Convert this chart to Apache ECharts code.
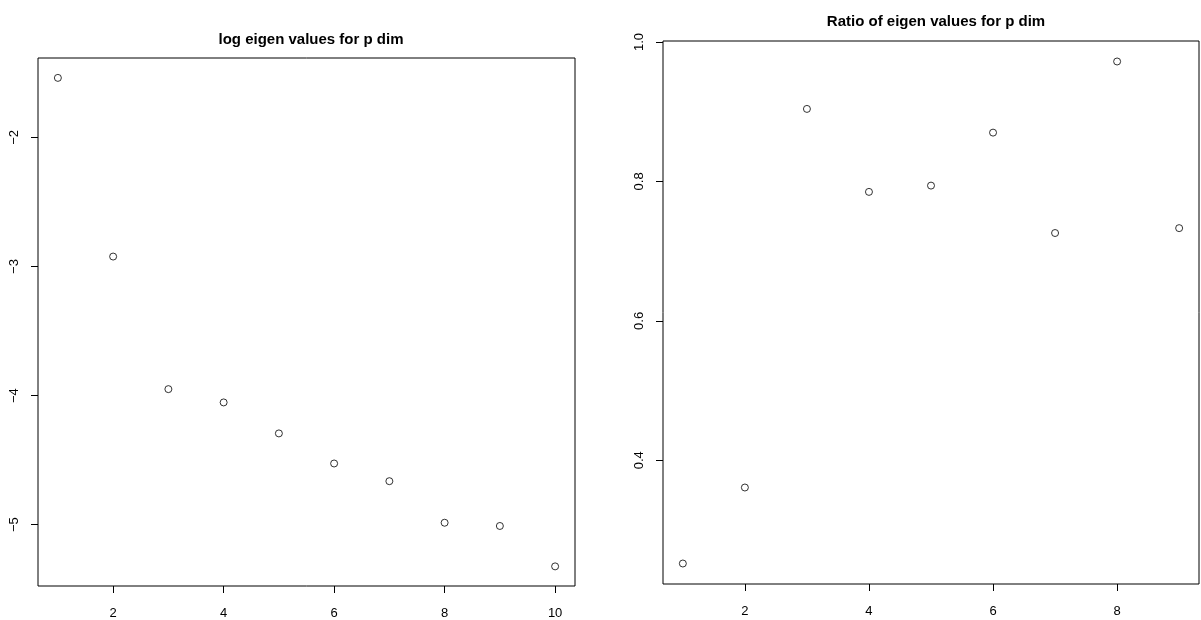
<!DOCTYPE html>
<html>
<head>
<meta charset="utf-8">
<script src="https://cdn.jsdelivr.net/npm/echarts@6/dist/echarts.min.js"></script>
<style>
  html, body { margin: 0; padding: 0; background: #fff; }
  #chart { width: 1201px; height: 620px; }
</style>
</head>
<body>
<div id="chart"></div>
<script>
  // left panel: log eigen values
  var logIdx = [1, 2, 3, 4, 5, 6, 7, 8, 9, 10]
  var logVals = [-1.539, -2.923, -3.950, -4.053, -4.293, -4.526, -4.663, -4.985, -5.010, -5.323]
  var logXTicks = [2, 4, 6, 8, 10]
  var logYTicks = [-5, -4, -3, -2]

  // right panel: ratio of eigen values
  var ratioIdx = [1, 2, 3, 4, 5, 6, 7, 8, 9]
  var ratioVals = [0.252, 0.361, 0.904, 0.785, 0.794, 0.870, 0.726, 0.972, 0.733]
  var ratioXTicks = [2, 4, 6, 8]
  var ratioYTicks = [0.4, 0.6, 0.8, 1.0]

  var font = 'Liberation Sans, Arial, sans-serif'

  function pairs (xs, ys) {
    var out = []
    for (var i = 0; i < xs.length; i++) {
      out.push([xs[i], ys[i]])
    }
    return out
  }

  function xAxisFor (idx, min, max, ticks) {
    return {
      type: 'value',
      gridIndex: idx,
      min: min,
      max: max,
      splitLine: { show: false },
      axisLine: { show: false },
      axisTick: { show: true, customValues: ticks, length: 7, lineStyle: { color: '#000' } },
      axisLabel: {
        customValues: ticks,
        margin: 21,
        color: '#000',
        fontSize: 13,
        fontFamily: font
      }
    }
  }

  function yAxisFor (idx, min, max, ticks, fmt) {
    return {
      type: 'value',
      gridIndex: idx,
      min: min,
      max: max,
      splitLine: { show: false },
      axisLine: { show: false },
      axisTick: { show: true, customValues: ticks, length: 7, lineStyle: { color: '#000' } },
      axisLabel: {
        customValues: ticks,
        rotate: 90,
        margin: 17,
        color: '#000',
        fontSize: 13,
        fontFamily: font,
        formatter: fmt
      }
    }
  }

  var circle = {
    type: 'scatter',
    symbol: 'circle',
    symbolSize: 7,
    itemStyle: { color: 'rgba(0,0,0,0)', borderColor: '#000', borderWidth: 1 },
    silent: true,
    animation: false
  }

  var myChart = echarts.init(document.getElementById('chart'))
  myChart.setOption({
    backgroundColor: '#fff',
    title: [
      {
        text: 'log eigen values for p dim',
        left: 306,
        top: 27,
        textAlign: 'center',
        textStyle: { fontSize: 15, fontWeight: 'bold', color: '#000', fontFamily: font }
      },
      {
        text: 'Ratio of eigen values for p dim',
        left: 931,
        top: 9,
        textAlign: 'center',
        textStyle: { fontSize: 15, fontWeight: 'bold', color: '#000', fontFamily: font }
      }
    ],
    grid: [
      { left: 38, top: 58, width: 537, height: 528, show: true, borderColor: '#000', borderWidth: 1, backgroundColor: 'transparent' },
      { left: 663, top: 41, width: 536, height: 543, show: true, borderColor: '#000', borderWidth: 1, backgroundColor: 'transparent' }
    ],
    xAxis: [
      xAxisFor(0, 0.64, 10.36, logXTicks),
      xAxisFor(1, 0.68, 9.32, ratioXTicks)
    ],
    yAxis: [
      yAxisFor(0, -5.475, -1.385, logYTicks, function (v) { return String(v).replace('-', '\u2212') }),
      yAxisFor(1, 0.2226, 1.0014, ratioYTicks, function (v) { return v.toFixed(1) })
    ],
    series: [
      Object.assign({}, circle, { xAxisIndex: 0, yAxisIndex: 0, data: pairs(logIdx, logVals) }),
      Object.assign({}, circle, { xAxisIndex: 1, yAxisIndex: 1, data: pairs(ratioIdx, ratioVals) })
    ]
  })
</script>
</body>
</html>
